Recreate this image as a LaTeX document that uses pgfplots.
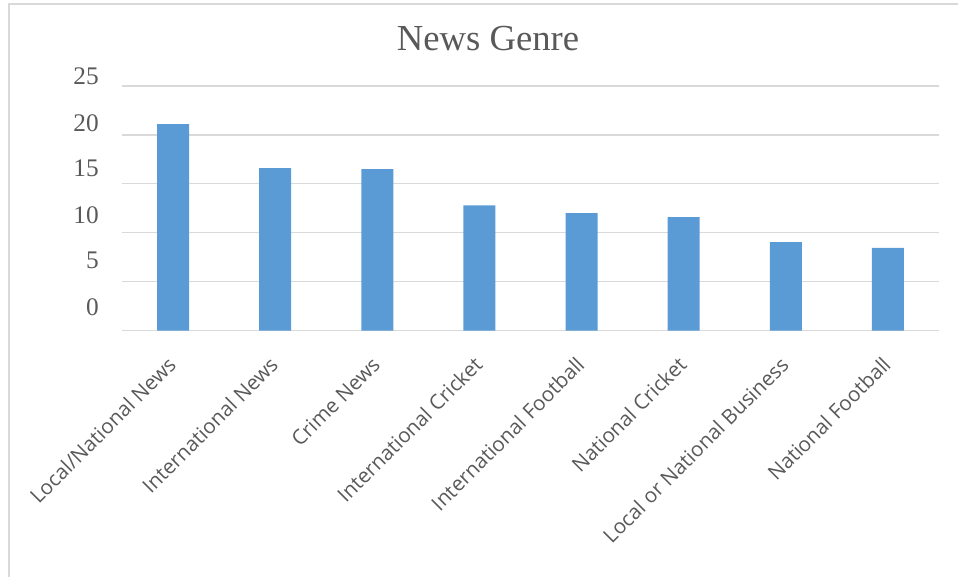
\documentclass[border=0pt]{standalone}
\usepackage{fontspec}
\setmainfont{Liberation Serif}
\newfontfamily\lblfont{Open Sans}
\usepackage{pgfplots}
\pgfplotsset{compat=1.18}
\definecolor{barblue}{HTML}{5B9BD5}
\definecolor{txtgray}{HTML}{595959}
\definecolor{gridgray}{HTML}{D9D9D9}
\begin{document}
\begin{tikzpicture}
% page = 958 x 577 px, 1px = 0.75pt
\path[use as bounding box] (0,0) rectangle (718.5pt,-432.75pt);
\draw[gridgray, line width=1.1pt] (6.75pt,-440pt) -- (6.75pt,-3pt) -- (725pt,-3pt);
\node[anchor=base, text=txtgray, font=\fontsize{27.5}{31}\selectfont] at (366pt,-38pt) {News Genre};
\begin{axis}[
    at={(91.5pt,-247.9pt)}, anchor=south west,
    width=612.75pt, height=183.4pt, scale only axis,
    xmin=-0.5, xmax=7.5, ymin=0, ymax=25,
    ytick={0,5,...,25},
    xtick=data,
    xticklabels={Local/National News, International News, Crime News, International Cricket, International Football, National Cricket, Local or National Business, National Football},
    xticklabel style={rotate=45, anchor=east, text=txtgray, font=\lblfont\fontsize{15.4}{17}\selectfont, inner sep=0pt, xshift=-16.6pt, yshift=-15.5pt},
    yticklabel style={anchor=east, text=txtgray, font=\fontsize{19}{22}\selectfont, inner sep=0pt, xshift=-17.3pt, yshift={17.8pt-2.17pt*\ticknum}},
    /pgf/number format/assume math mode=true,
    ymajorgrids,
    major grid style={gridgray, line width=1pt},
    axis line style={draw=none},
    major tick length=0pt,
    tick style={draw=none},
    ybar, bar width=24pt,
]
\addplot[fill=barblue, draw=none] coordinates {
    (0,21.1)
    (1,16.6)
    (2,16.5)
    (3,12.8)
    (4,12.0)
    (5,11.6)
    (6,9.05)
    (7,8.45)
};
\end{axis}
\end{tikzpicture}
\end{document}
